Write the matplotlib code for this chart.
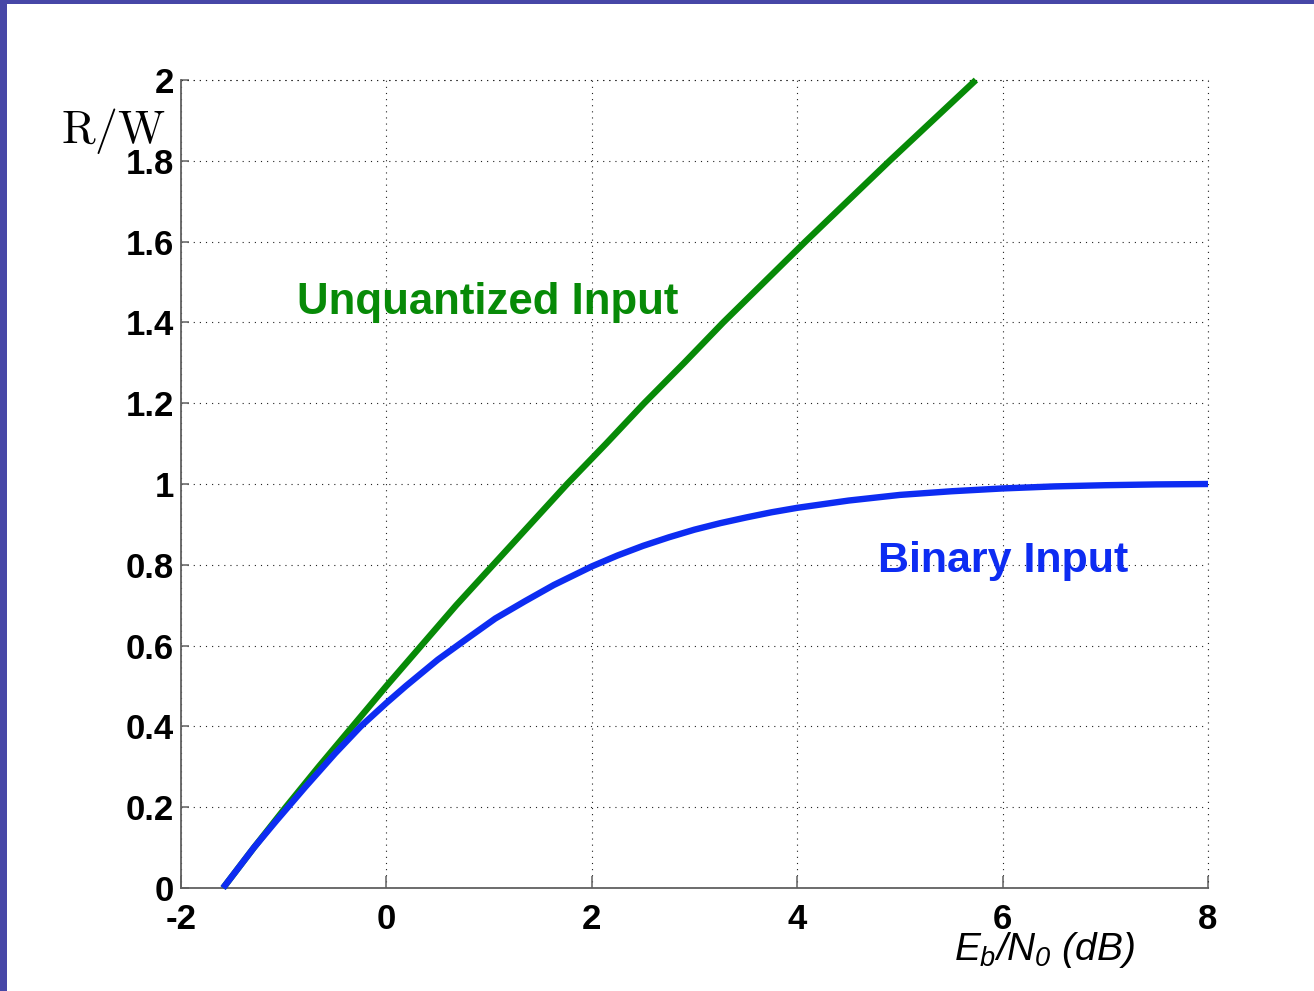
#!/usr/bin/env python3
# -*- coding: utf-8 -*-
"""
Capacity curves: R/W versus Eb/N0 (dB) for unquantized (Gaussian) input
and binary input on the AWGN channel.
"""

import matplotlib
matplotlib.use("Agg")
import matplotlib.pyplot as plt
from matplotlib.patches import Rectangle

# ----------------------------
# Data (Eb/N0 in dB, rate R/W)
# ----------------------------
unquant_ebn0 = [-1.59, -1.29, -0.98, -0.66, -0.33, 0.00, 0.34, 0.68, 1.04,
                1.40, 1.76, 2.14, 2.51, 2.90, 3.28, 3.68, 4.08, 4.49, 4.90,
                5.32, 5.74]
unquant_rate = [0.0, 0.1, 0.2, 0.3, 0.4, 0.5, 0.6, 0.7, 0.8,
                0.9, 1.0, 1.1, 1.2, 1.3, 1.4, 1.5, 1.6, 1.7, 1.8,
                1.9, 2.0]

binary_ebn0 = [-1.59, -1.29, -1.07, -0.79, -0.50, -0.25, 0.00, 0.19, 0.50,
               0.80, 1.06, 1.35, 1.63, 2.00, 2.25, 2.50, 2.75, 3.00, 3.25,
               3.50, 3.75, 4.00, 4.50, 5.00, 5.50, 6.00, 6.50, 7.00, 7.50, 8.00]
binary_rate = [0.0, 0.1, 0.167, 0.25, 0.333, 0.40, 0.458, 0.5, 0.565,
               0.62, 0.667, 0.71, 0.75, 0.796, 0.823, 0.847, 0.868, 0.887, 0.903,
               0.917, 0.930, 0.941, 0.959, 0.973, 0.982, 0.989, 0.994, 0.997, 0.999, 1.0]

xticks = [-2, 0, 2, 4, 6, 8]
yticks = [0, 0.2, 0.4, 0.6, 0.8, 1.0, 1.2, 1.4, 1.6, 1.8, 2.0]
yticklabels = ["0", "0.2", "0.4", "0.6", "0.8", "1", "1.2", "1.4", "1.6", "1.8", "2"]

# ----------------------------
# Style
# ----------------------------
plt.rcParams["font.family"] = ["Liberation Sans", "DejaVu Sans"]
plt.rcParams["mathtext.fontset"] = "custom"
plt.rcParams["mathtext.it"] = "Liberation Sans:italic"
plt.rcParams["mathtext.rm"] = "Liberation Sans:italic"

GREEN = "#078a07"
BLUE = "#0d2cf2"
FRAME = "#4747a7"
SPINE = "#606060"
GRID = "#222222"
DOTS = (0, (1, 4.5))

fig = plt.figure(figsize=(13.14, 9.91), dpi=100)
fig.patch.set_facecolor("white")

# slide frame strips on the left and top edges
fig.patches.append(Rectangle((0, 0), 7 / 1314, 1, transform=fig.transFigure,
                             facecolor=FRAME, edgecolor="none", zorder=0))
fig.patches.append(Rectangle((0, 1 - 4 / 991), 1, 4 / 991, transform=fig.transFigure,
                             facecolor=FRAME, edgecolor="none", zorder=0))

ax = fig.add_axes([181 / 1314, 1 - 888 / 991, 1027 / 1314, 808 / 991])

ax.plot(unquant_ebn0, unquant_rate, color=GREEN, lw=4.6, solid_capstyle="butt",
        solid_joinstyle="round", clip_on=False, zorder=3)
ax.plot(binary_ebn0, binary_rate, color=BLUE, lw=4.6, solid_capstyle="butt",
        solid_joinstyle="round", clip_on=False, zorder=4)

ax.set_xlim(-2, 8)
ax.set_ylim(0, 2)
ax.set_xticks(xticks)
ax.set_xticklabels([str(t) for t in xticks], fontsize=25, fontweight="bold")
ax.set_yticks(yticks)
ax.set_yticklabels(yticklabels, fontsize=25, fontweight="bold")

ax.tick_params(axis="x", direction="in", length=8.5, width=1.1, color=SPINE, pad=11)
ax.tick_params(axis="y", direction="in", length=5.5, width=1.1, color=SPINE, pad=5)

ax.grid(True, color=GRID, lw=0.8, linestyle=DOTS)
ax.set_axisbelow(True)

for side in ("top", "right"):
    ax.spines[side].set_visible(False)
for side in ("left", "bottom"):
    ax.spines[side].set_color(SPINE)
    ax.spines[side].set_linewidth(1.3)

# boundary grid lines at the top and right of the box
ax.axhline(2, color=GRID, lw=0.8, linestyle=DOTS, clip_on=False)
ax.axvline(8, color=GRID, lw=0.8, linestyle=DOTS, clip_on=False)

# curve labels
ax.text(-0.87, 1.42, "Unquantized Input", color=GREEN, fontsize=31.5,
        fontweight="bold", ha="left", va="baseline")
ax.text(4.79, 0.782, "Binary Input", color=BLUE, fontsize=31,
        fontweight="bold", ha="left", va="baseline")

# axis labels
fig.text(166 / 1314, 1 - 131 / 991, r"$\mathrm{R/W}$", fontsize=33,
         ha="right", va="center", math_fontfamily="cm")
fig.text(1045 / 1314, 1 - 950 / 991, r"$E_b/N_0$ (dB)", fontsize=28,
         fontstyle="italic", ha="center", va="center")

fig.savefig("out.png", dpi=100, facecolor=fig.get_facecolor())
